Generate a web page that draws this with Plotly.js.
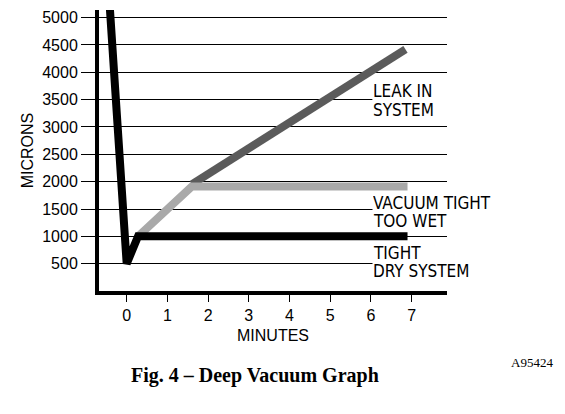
<!DOCTYPE html>
<html>
<head>
<meta charset="utf-8">
<script src="https://cdn.plot.ly/plotly-3.0.1.min.js"></script>
<style>
  body { margin: 0; background: #fff; }
  #vacuum_myDiv { width: 565px; height: 414px; }
</style>
</head>
<body>
<div id="vacuum_myDiv"></div>
<script>
// deep vacuum graph data
var dry_x = [-0.42, 0, 0.28, 6.9];
var dry_y = [5250, 500, 1000, 1000];

var wet_x = [0.28, 1.6, 6.9];
var wet_y = [1000, 1910, 1910];

var leak_x = [1.6, 6.85];
var leak_y = [1950, 4420];

var yTickVals = [500, 1000, 1500, 2000, 2500, 3000, 3500, 4000, 4500, 5000];
var xTickVals = [0, 1, 2, 3, 4, 5, 6, 7];

var labelFont = 'DejaVu Sans Condensed, Liberation Sans Narrow, Arial Narrow, sans-serif';

function labelLine(txt, yval){
  return {
    x: 6.03, y: yval, xref: 'x', yref: 'y',
    xanchor: 'left', yanchor: 'middle',
    text: txt, showarrow: false, align: 'left',
    width: 126, height: 19, valign: 'middle',
    bgcolor: '#fff', borderpad: 0,
    font: {family: labelFont, size: 17, color: '#000'}
  };
}

function vacuumMain(){
  var traces = [
    {x: leak_x, y: leak_y, mode: 'lines', line: {color: '#5b5b5b', width: 8}, hoverinfo: 'skip'},
    {x: wet_x, y: wet_y, mode: 'lines', line: {color: '#a9a9a9', width: 8}, hoverinfo: 'skip'},
    {x: dry_x, y: dry_y, mode: 'lines', line: {color: '#000', width: 8}, hoverinfo: 'skip'}
  ];

  var layout = {
    width: 565, height: 414,
    margin: {l: 99, r: 118, t: 10, b: 123},
    paper_bgcolor: '#fff', plot_bgcolor: '#fff',
    showlegend: false,
    font: {family: 'Liberation Sans, Arial, sans-serif', size: 16, color: '#000'},
    xaxis: {
      range: [-0.68, 7.87],
      tickvals: xTickVals,
      ticks: 'outside', ticklen: 7, tickwidth: 1, tickcolor: '#000',
      showgrid: false, zeroline: false,
      showline: true, linewidth: 4, linecolor: '#000',
      title: {text: 'MINUTES', standoff: 8, font: {size: 16}}
    },
    yaxis: {
      range: [0, 5140],
      tickvals: yTickVals,
      ticks: 'outside', ticklen: 14, tickwidth: 1, tickcolor: '#000',
      showgrid: true, gridcolor: '#000', gridwidth: 1,
      zeroline: false,
      showline: true, linewidth: 4, linecolor: '#000',
      title: {text: 'MICRONS', standoff: 6, font: {size: 16}}
    },
    annotations: [
      labelLine('LEAK IN', 3667),
      labelLine('SYSTEM', 3329),
      labelLine('VACUUM TIGHT', 1628),
      labelLine('TOO WET', 1290),
      labelLine('TIGHT', 704),
      labelLine('DRY SYSTEM', 366),
      {
        x: 0.447, y: -0.299, xref: 'paper', yref: 'paper',
        xanchor: 'center', yanchor: 'middle', showarrow: false,
        text: '<b>Fig. 4 \u2013 Deep Vacuum Graph</b>',
        font: {family: 'Liberation Serif, Times New Roman, serif', size: 20, color: '#000'}
      },
      {
        x: 1.243, y: -0.256, xref: 'paper', yref: 'paper',
        xanchor: 'center', yanchor: 'middle', showarrow: false,
        text: 'A95424',
        font: {family: 'Liberation Serif, Times New Roman, serif', size: 13, color: '#000'}
      }
    ]
  };

  Plotly.newPlot('vacuum_myDiv', traces, layout, {staticPlot: true});
}

vacuumMain();
</script>
</body>
</html>
